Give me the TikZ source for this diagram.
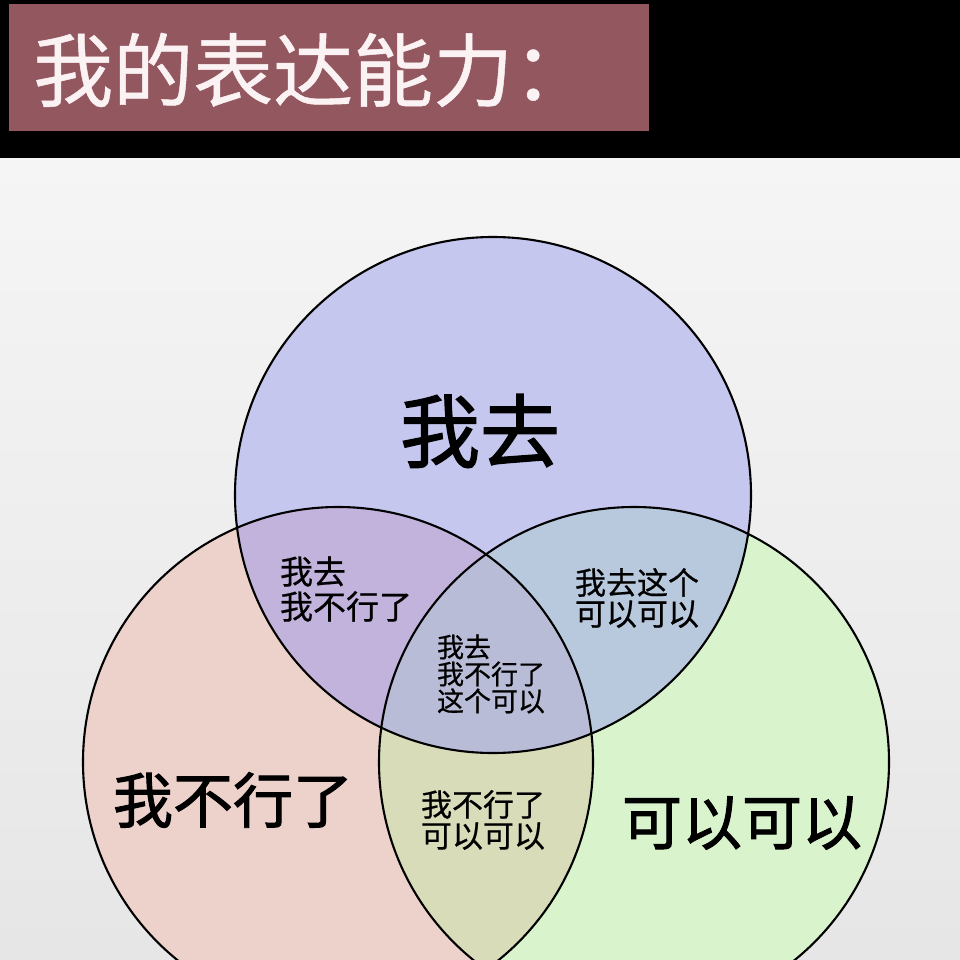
\documentclass[tikz,border=0pt]{standalone}
\usepackage{fontspec}
\newfontfamily\cjk{Noto Sans CJK SC}
\newfontfamily\cjkm[FakeBold=1.6]{Noto Sans CJK SC}
\newfontfamily\cjks[FakeBold=0.6]{Noto Sans CJK SC}
\definecolor{bgtop}{HTML}{F5F5F5}
\definecolor{bgbot}{HTML}{E6E6E6}
\definecolor{titlebg}{HTML}{935760}
\definecolor{titlefg}{HTML}{FBF2F4}
\definecolor{topc}{HTML}{C6C7EF}
\definecolor{leftc}{HTML}{ECD2CB}
\definecolor{rightc}{HTML}{D9F3CD}
\definecolor{tlc}{HTML}{C2B3DD}
\definecolor{trc}{HTML}{B9C9DD}
\definecolor{lrc}{HTML}{D9DCB9}
\definecolor{allc}{HTML}{B9BCD6}
\tikzset{
  bigl/.style={inner sep=0pt, font=\cjkm\fontsize{60}{66}\selectfont, text=black},
  smalll/.style={inner sep=0pt, align=left, text=black},
  ring/.style={draw=black, line width=2.1pt}
}
\def\CT{(493,495) circle[radius=258pt]}
\def\CL{(338,762) circle[radius=255pt]}
\def\CR{(634,762) circle[radius=255pt]}
\begin{document}
\begin{tikzpicture}[x=1pt,y=-1pt]
\useasboundingbox (0,0) rectangle (960,960);
\clip (0,0) rectangle (960,960);
\shade[top color=bgtop, bottom color=bgbot] (0,158) rectangle (960,960);
\fill[black] (0,0) rectangle (960,158);
\fill[titlebg] (9,4) rectangle (649,131);
\node[anchor=west, inner sep=0pt, text=titlefg, font=\cjks\fontsize{80}{90}\selectfont] (title) at (33,70) {我的表达能力：};
% fills
\fill[topc] \CT;
\fill[leftc] \CL;
\fill[rightc] \CR;
\begin{scope}\clip \CT; \fill[tlc] \CL; \fill[trc] \CR; \end{scope}
\begin{scope}\clip \CL; \fill[lrc] \CR; \end{scope}
\begin{scope}\clip \CT; \clip \CL; \fill[allc] \CR; \end{scope}
% outlines
\draw[ring] \CT;
\draw[ring] \CL;
\draw[ring] \CR;
% labels
\node[bigl, font=\cjkm\fontsize{80}{88}\selectfont] (qu) at (480,431) {我去};
\node[bigl] (buxing) at (233,800) {我不行了};
\node[bigl] (keyi) at (742,823) {可以可以};
\node[smalll, font=\cjks\fontsize{33}{35}\selectfont] (tl) at (346,589) {我去\\我不行了};
\node[smalll, font=\cjks\fontsize{31}{31}\selectfont] (tr) at (637,598) {我去这个\\可以可以};
\node[smalll, font=\cjks\fontsize{27}{27}\selectfont] (all) at (491,674) {我去\\我不行了\\这个可以};
\node[smalll, font=\cjks\fontsize{31}{31}\selectfont] (lr) at (483,820) {我不行了\\可以可以};
\end{tikzpicture}
\end{document}
